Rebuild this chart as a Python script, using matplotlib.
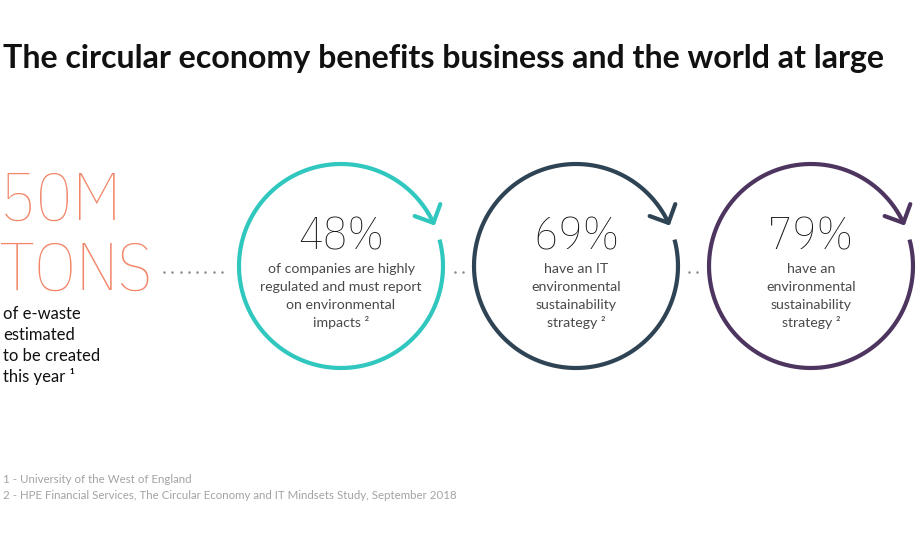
import matplotlib
matplotlib.use('Agg')
import matplotlib.pyplot as plt
import numpy as np
from matplotlib import font_manager as fm

# --- data ---
title = 'The circular economy benefits business and the world at large'
headline = ['50M', 'TONS']
headline_note = ['of e-waste', 'estimated', 'to be created', 'this year \u00b9']
stats = ['48%', '69%', '79%']
stat_notes = [
    ['of companies are highly', 'regulated and must report', 'on environmental', 'impacts \u00b2'],
    ['have an IT', 'environmental', 'sustainability', 'strategy \u00b2'],
    ['have an', 'environmental', 'sustainability', 'strategy \u00b2'],
]
ring_colors = ['#2fc7be', '#2e4354', '#4d3560']
footnotes = ['1 - University of the West of England',
             '2 - HPE Financial Services, The Circular Economy and IT Mindsets Study, September 2018']

# pick fonts: the lightest narrow one if there is one, otherwise light Roboto
ttf = fm.fontManager.ttflist
def _w(f):
    return f.weight if isinstance(f.weight, int) else 400
narrow = [f for f in ttf if ('Narrow' in f.name or 'Condensed' in f.name)]
if narrow:
    narrow.sort(key=_w)
    NUM_FONT = narrow[0].name
    NUM_W = _w(narrow[0])
else:
    NUM_FONT = 'Roboto'
    ws = [_w(f) for f in ttf if f.name == 'Roboto']
    NUM_W = 300 if 300 in ws else (min(ws) if ws else 300)
TXT_FONT = ['Lato', 'DejaVu Sans']

fig = plt.figure(figsize=(9.22, 5.51), dpi=100)
ax = fig.add_axes([0, 0, 1, 1])
ax.set_xlim(0, 922)
ax.set_ylim(551, 0)
ax.axis('off')

t = ax.text(3, 68, title, fontsize=24, fontweight='bold', family=TXT_FONT,
            color='#111111', va='baseline', ha='left')
# fit title to the reference width
rend = fig.canvas.get_renderer()
w = t.get_window_extent(rend).width
t.set_fontsize(24 * 881.0 / w)

coral = '#f2876b'
ax.text(0, 220, headline[0], fontsize=49, family=NUM_FONT, fontweight=NUM_W,
        color=coral, va='baseline', ha='left')
ax.text(0, 290, headline[1], fontsize=49, family=NUM_FONT, fontweight=NUM_W,
        color=coral, va='baseline', ha='left')
for i, line in enumerate(headline_note):
    ax.text(3, 319 + 21 * i, line, fontsize=12, family=TXT_FONT,
            color='#111111', va='baseline', ha='left')

# dotted connectors
dot = dict(color='#8a8a8a', marker='o', ms=1.8, lw=0, mew=0)
ax.plot(np.linspace(164, 222, 8), [272] * 8, **dot)
for x0 in [455, 689]:
    ax.plot([x0, x0 + 8], [272, 272], **dot)

# rings
r = 102
centers = [341, 576, 811]
cy = 266
for k, (cx, col) in enumerate(zip(centers, ring_colors)):
    th = np.radians(np.linspace(15, 25 - 360, 400))
    xs = cx + r * np.cos(th)
    ys = cy - r * np.sin(th)
    ax.plot(xs, ys, color=col, lw=3.0, solid_capstyle='butt')
    te = th[-1]
    tip = np.array([xs[-1], ys[-1]])
    back = -np.array([np.sin(te), np.cos(te)])
    for a in [45, -45]:
        ca, sa = np.cos(np.radians(a)), np.sin(np.radians(a))
        d = np.array([back[0] * ca - back[1] * sa, back[0] * sa + back[1] * ca])
        p = tip + 20 * d
        ax.plot([tip[0], p[0]], [tip[1], p[1]], color=col, lw=3.0,
                solid_capstyle='round')
    ax.text(cx, 250, stats[k], fontsize=33, family=NUM_FONT, fontweight=NUM_W,
            color='#111111', ha='center', va='baseline')
    for i, line in enumerate(stat_notes[k]):
        ax.text(cx, 273 + 18 * i, line, fontsize=10.2, family=TXT_FONT,
                color='#4a4a4a', ha='center', va='baseline')

for i, line in enumerate(footnotes):
    ax.text(3, 483 + 16 * i, line, fontsize=8.3, family=TXT_FONT,
            color='#a3a3a3', ha='left', va='baseline')

fig.savefig('out.png', dpi=100)
